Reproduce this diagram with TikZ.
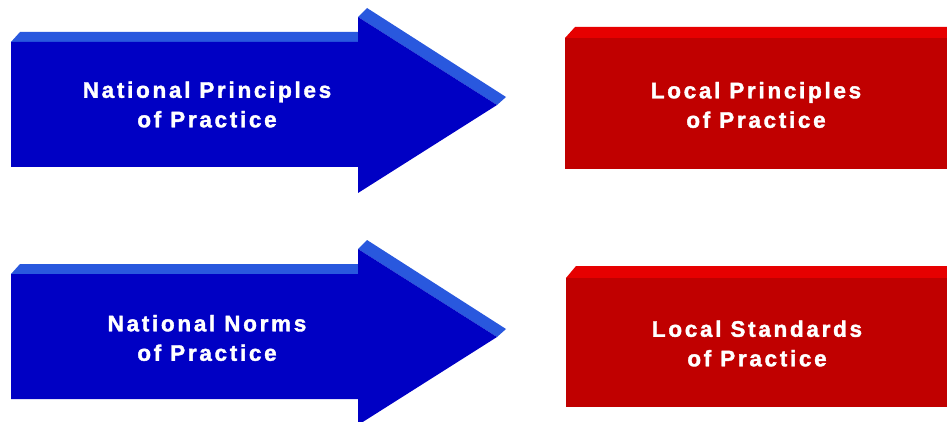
\documentclass[tikz,border=0pt]{standalone}
\usepackage{fontspec}
\setmainfont{Liberation Sans}[LetterSpace=12, BoldFeatures={FakeBold=1.6}]
\definecolor{blueFront}{RGB}{0,0,196}
\definecolor{blueTop}{RGB}{41,88,222}
\definecolor{redFront}{RGB}{192,0,0}
\definecolor{redTop}{RGB}{230,0,0}
\tikzset{
  front/.style={fill=#1, draw=none},
  bevel/.style={fill=#1, draw=none},
  lbl/.style={text=white, align=center, inner sep=0pt,
    font=\fontsize{22.5}{29.5}\selectfont\bfseries}
}
\begin{document}
\begin{tikzpicture}[x=1pt,y=-1pt]
\useasboundingbox[fill=white] (0,0) rectangle (947,422);
% ---- top blue arrow
\fill[bevel=blueTop] (11,42) -- (20,32) -- (358,32) -- (358,42) -- cycle;
\fill[bevel=blueTop] (358,17) -- (367,8) -- (506,97) -- (497,105) -- cycle;
\fill[front=blueFront] (11,42) -- (358,42) -- (358,17) -- (497,105) -- (358,193) -- (358,167) -- (11,167) -- cycle;
\node[lbl] (np) at (207,104.5) {National Principles\\of Practice};
% ---- bottom blue arrow
\begin{scope}[yshift=-232pt]
\fill[bevel=blueTop] (11,42) -- (20,32) -- (358,32) -- (358,42) -- cycle;
\fill[bevel=blueTop] (358,17) -- (367,8) -- (506,97) -- (497,105) -- cycle;
\fill[front=blueFront] (11,42) -- (358,42) -- (358,17) -- (497,105) -- (358,193) -- (358,167) -- (11,167) -- cycle;
\end{scope}
\node[lbl] (nn) at (207,338) {National Norms\\of Practice};
% ---- top red box
\fill[bevel=redTop] (565,38) -- (575,27) -- (947,27) -- (947,38) -- cycle;
\fill[front=redFront] (565,38) rectangle (947,169);
\node[lbl] (lp) at (756,105) {Local Principles\\of Practice};
% ---- bottom red box
\fill[bevel=redTop] (566,278) -- (576,266) -- (947,266) -- (947,278) -- cycle;
\fill[front=redFront] (566,278) rectangle (947,407);
\node[lbl] (ls) at (757,343.5) {Local Standards\\of Practice};
\end{tikzpicture}
\end{document}
